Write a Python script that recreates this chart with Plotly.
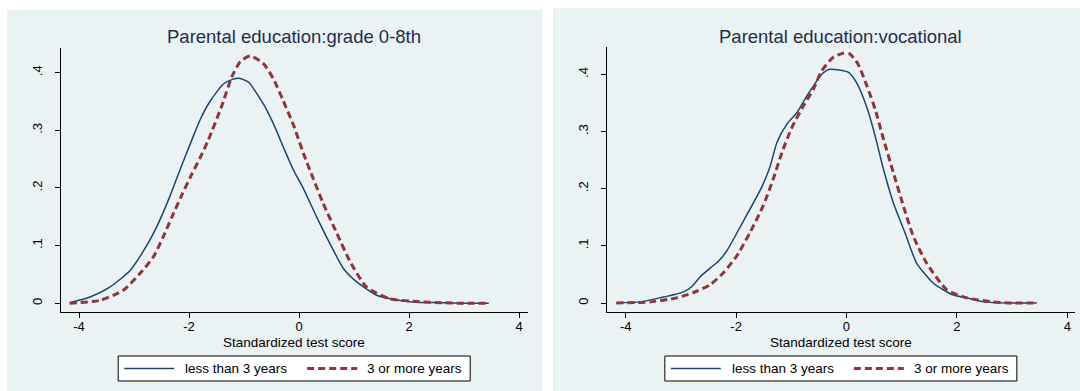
import plotly.graph_objects as go

W, H = 1080, 391

# ---- data -------------------------------------------------------------
score_ticks = [-4, -2, 0, 2, 4]
score_labels = ["-4", "-2", "0", "2", "4"]
density_ticks = [0, 0.1, 0.2, 0.3, 0.4]
density_labels = ["0", ".1", ".2", ".3", ".4"]

panel_titles = ["Parental education:grade 0-8th", "Parental education:vocational"]
series_names = ["less than 3 years", "3 or more years"]
x_title = "Standardized test score"

# kernel density, parental education grade 0-8th
g08_less_x = [-4.17, -3.80, -3.44, -3.07, -2.77, -2.59, -2.35, -2.13, -1.95, -1.80,
              -1.62, -1.38, -1.22, -1.07, -0.91, -0.77, -0.62, -0.44, -0.25, -0.10,
              0.08, 0.32, 0.56, 0.81, 1.05, 1.41, 1.84, 2.13, 2.60, 3.00, 3.45]
g08_less_y = [0.001, 0.011, 0.028, 0.057, 0.100, 0.132, 0.185, 0.240, 0.283, 0.318,
              0.350, 0.380, 0.388, 0.390, 0.383, 0.364, 0.341, 0.306, 0.263, 0.231,
              0.199, 0.150, 0.104, 0.060, 0.037, 0.014, 0.005, 0.002, 0.001, 0.000, 0.000]
g08_more_x = [-4.17, -3.62, -3.19, -2.89, -2.65, -2.47, -2.31, -2.13, -1.96, -1.80,
              -1.65, -1.41, -1.22, -1.07, -0.89, -0.65, -0.47, -0.29, -0.10, 0.08,
              0.26, 0.44, 0.69, 0.93, 1.23, 1.65, 2.14, 2.60, 3.00, 3.45]
g08_more_y = [0.000, 0.005, 0.023, 0.052, 0.080, 0.115, 0.150, 0.188, 0.222, 0.252,
              0.283, 0.341, 0.393, 0.419, 0.429, 0.416, 0.390, 0.352, 0.309, 0.260,
              0.216, 0.173, 0.121, 0.072, 0.028, 0.008, 0.003, 0.001, 0.000, 0.000]

# kernel density, parental education vocational
voc_less_x = [-4.17, -3.74, -3.38, -2.96, -2.80, -2.65, -2.47, -2.32, -2.17, -1.87,
              -1.54, -1.39, -1.26, -1.08, -0.90, -0.72, -0.45, -0.30, 0.03, 0.18,
              0.37, 0.52, 0.67, 0.85, 1.06, 1.27, 1.57, 1.91, 2.24, 2.48, 3.00, 3.45]
voc_less_y = [0.000, 0.002, 0.009, 0.019, 0.029, 0.046, 0.061, 0.073, 0.091, 0.143,
              0.202, 0.237, 0.281, 0.313, 0.333, 0.362, 0.400, 0.409, 0.404, 0.386,
              0.342, 0.292, 0.234, 0.175, 0.123, 0.070, 0.035, 0.015, 0.0075, 0.002,
              0.000, 0.000]
voc_more_x = [-4.17, -3.56, -3.08, -2.78, -2.47, -2.23, -1.99, -1.75, -1.51, -1.33,
              -1.17, -0.99, -0.78, -0.60, -0.45, -0.24, -0.06, 0.06, 0.21, 0.37,
              0.52, 0.67, 0.85, 1.03, 1.21, 1.45, 1.82, 2.18, 2.66, 3.00, 3.45]
voc_more_y = [0.000, 0.002, 0.009, 0.018, 0.032, 0.053, 0.082, 0.123, 0.170, 0.216,
              0.263, 0.307, 0.345, 0.374, 0.406, 0.430, 0.437, 0.436, 0.418, 0.380,
              0.339, 0.287, 0.228, 0.170, 0.117, 0.070, 0.023, 0.009, 0.002, 0.000,
              0.000]

# ---- styling ----------------------------------------------------------
FONT = "Liberation Sans, Arial, sans-serif"
BG = "#eaf2f3"
NAVY = "#1a476f"
MAROON = "#90353b"
TITLE_COLOR = "#1f2d4f"
SMALL = 13.5
TICK_SIZE = 13
DASH = "7px,4px"


def px(x):
    return x / W


def py(y):
    return 1 - y / H


fig = go.Figure()

panels = [
    dict(xa="x", ya="y", less=(g08_less_x, g08_less_y), more=(g08_more_x, g08_more_y),
         xdom=(60.7, 527.7), ytop=48.3, xr=(-4.333, 4.158), yr=(-0.0146, 0.4423),
         bg=(7, 542, 10)),
    dict(xa="x2", ya="y2", less=(voc_less_x, voc_less_y), more=(voc_more_x, voc_more_y),
         xdom=(606.7, 1075.0), ytop=47.0, xr=(-4.344, 4.140), yr=(-0.0152, 0.448),
         bg=(553, 1085, 8)),
]
PLOT_BOTTOM = 311.7

shapes = []
annotations = []

for i, p in enumerate(panels):
    fig.add_trace(go.Scatter(
        x=p["less"][0], y=p["less"][1], mode="lines", name=series_names[0],
        line=dict(color=NAVY, width=1.5, shape="spline", smoothing=0.6),
        xaxis=p["xa"], yaxis=p["ya"], showlegend=False))
    fig.add_trace(go.Scatter(
        x=p["more"][0], y=p["more"][1], mode="lines", name=series_names[1],
        line=dict(color=MAROON, width=3, dash=DASH, shape="spline", smoothing=0.6),
        xaxis=p["xa"], yaxis=p["ya"], showlegend=False))

    suffix = "" if i == 0 else "2"
    fig.update_layout(**{
        "xaxis" + suffix: dict(
            domain=[px(p["xdom"][0]), px(p["xdom"][1])],
            anchor=p["ya"], range=list(p["xr"]),
            tickvals=score_ticks, ticktext=score_labels,
            ticks="outside", ticklen=5, tickwidth=1,
            tickcolor="black", showline=True, linecolor="black", linewidth=1,
            showgrid=False, zeroline=False, ticklabelstandoff=-2,
            tickfont=dict(family=FONT, size=TICK_SIZE, color="black"),
        ),
        "yaxis" + suffix: dict(
            domain=[py(PLOT_BOTTOM), py(p["ytop"])],
            anchor=p["xa"], range=list(p["yr"]),
            tickvals=density_ticks, ticktext=density_labels, tickangle=-90,
            ticks="outside", ticklen=5, tickwidth=1, tickcolor="black",
            showline=True, linecolor="black", linewidth=1,
            showgrid=True, gridcolor=BG, gridwidth=1.5, zeroline=False,
            ticklabelstandoff=8,
            tickfont=dict(family=FONT, size=TICK_SIZE, color="black"),
        ),
    })

    # panel background
    x0, x1, y0 = p["bg"]
    shapes.append(dict(type="rect", xref="paper", yref="paper", layer="below",
                       x0=px(x0), x1=px(x1), y0=py(H + 5), y1=py(y0),
                       fillcolor=BG, line=dict(width=0)))

    cx = (p["xdom"][0] + p["xdom"][1]) / 2

    # panel title
    annotations.append(dict(text=panel_titles[i], xref="paper", yref="paper",
                            x=px(cx), y=py(36.5), xanchor="center", yanchor="middle",
                            showarrow=False,
                            font=dict(family=FONT, size=18.5, color=TITLE_COLOR)))

    # x-axis title
    annotations.append(dict(text=x_title, xref="paper", yref="paper",
                            x=px(cx), y=py(342), xanchor="center", yanchor="middle",
                            showarrow=False,
                            font=dict(family=FONT, size=SMALL, color="black")))

    # key below the panel
    ky0, ky1 = 356, 381
    kym = (ky0 + ky1) / 2
    shapes.append(dict(type="rect", xref="paper", yref="paper",
                       x0=px(cx - 176), x1=px(cx + 176), y0=py(ky1), y1=py(ky0),
                       fillcolor="white", line=dict(color="black", width=1)))
    shapes.append(dict(type="line", xref="paper", yref="paper",
                       x0=px(cx - 170), x1=px(cx - 120), y0=py(kym), y1=py(kym),
                       line=dict(color=NAVY, width=1.5)))
    shapes.append(dict(type="line", xref="paper", yref="paper",
                       x0=px(cx + 13), x1=px(cx + 63), y0=py(kym), y1=py(kym),
                       line=dict(color=MAROON, width=3, dash=DASH)))
    for label, lx in ((series_names[0], cx - 111), (series_names[1], cx + 71)):
        annotations.append(dict(text=label, xref="paper", yref="paper",
                                x=px(lx), y=py(kym), xanchor="left", yanchor="middle",
                                showarrow=False,
                                font=dict(family=FONT, size=SMALL, color="black")))

fig.update_layout(
    width=W, height=H,
    margin=dict(l=0, r=0, t=0, b=0),
    paper_bgcolor="white", plot_bgcolor="white",
    shapes=shapes, annotations=annotations,
    showlegend=False,
)

fig.write_html("out.html")
